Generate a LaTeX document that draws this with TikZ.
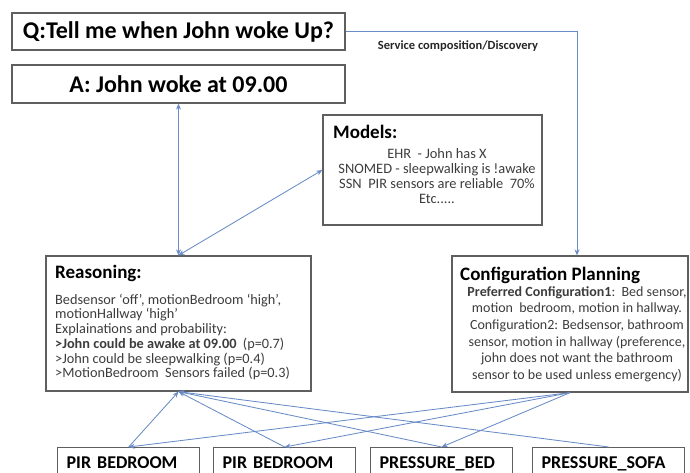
\documentclass[tikz,border=0pt]{standalone}
\usepackage{fontspec}
\setmainfont{Carlito}
\usepackage{tikz}
\usetikzlibrary{arrows,arrows.meta,positioning}
\definecolor{linkblue}{RGB}{105,140,198}
\definecolor{boxgray}{RGB}{95,95,95}
\definecolor{bodygray}{RGB}{60,60,60}
\tikzset{
  box/.style={draw=boxgray, line width=1.3pt, inner sep=0pt},
  link/.style={draw=linkblue, line width=0.85pt, ->, >={Stealth[length=6pt, width=5pt]}},
  head/.style={anchor=base west, inner sep=0pt, font=\fontsize{19}{22}\selectfont\bfseries},
  body/.style={inner sep=0pt, text=bodygray},
  sensor/.style={box, anchor=north west, align=left, text width=124pt, inner xsep=9pt,
    inner ysep=0pt, text height=21pt, text depth=25pt, font=\fontsize{18}{20}\selectfont\bfseries}
}

\begin{document}
\begin{tikzpicture}[x=1pt, y=-1pt]
            \useasboundingbox (0,0) rectangle (690,472);
            % question and answer
            \node[box, minimum width=333pt, minimum height=37pt, font=\fontsize{24}{28}\selectfont\bfseries] (q) at (178.5,31.5) {Q:Tell me when John woke Up?};
            \node[box, minimum width=333pt, minimum height=38pt, font=\fontsize{24}{28}\selectfont\bfseries] (ans) at (178.5,84) {A: John woke at 09.00};
            \node[inner sep=0pt, text=black!85, font=\fontsize{12.5}{14}\selectfont\bfseries] (svclabel) at (458,46) {Service composition/Discovery};
            % models
            \node[box, minimum width=219pt, minimum height=110pt] (models) at (432.5,170) {};
            \node[head] (modelshead) at (333,138) {Models:};
            \node[body, align=center, font=\fontsize{14.4}{15}\selectfont] (modelsbody) at (437,176) {EHR\ \ - John has X\\SNOMED - sleepwalking is !awake\\SSN\ \ PIR sensors are reliable\ \ 70\%\\Etc.....};
            % reasoning
            \node[box, minimum width=265pt, minimum height=135pt] (reason) at (178.5,323.5) {};
            \node[head] (reasonhead) at (55,278) {Reasoning:};
            \node[body, anchor=west, align=left, font=\fontsize{14.3}{14.7}\selectfont] (reasonbody) at (55,337) {Bedsensor `off', motionBedroom `high',\\motionHallway `high'\\Explainations and probability:\\\textbf{>John could be awake at 09.00}\ \ (p=0.7)\\>John could be sleepwalking (p=0.4)\\>MotionBedroom\ \ Sensors failed (p=0.3)};
            % configuration planning
            \node[box, minimum width=236pt, minimum height=136pt] (config) at (570,324) {};
            \node[head] (confighead) at (460,280) {Configuration Planning};
            \node[body, align=center, font=\fontsize{14}{16.6}\selectfont] (configbody) at (577,334) {\textbf{Preferred Configuration1}:\ \ Bed sensor,\\motion\ \ bedroom, motion in hallway.\\Configuration2: Bedsensor, bathroom\\sensor, motion in hallway (preference,\\john does not want the bathroom\\sensor to be used unless emergency)};
            % sensors
            \node[sensor] (pir1) at (57,447) {PIR BEDROOM};
            \node[sensor] (pir2) at (213,447) {PIR BEDROOM};
            \node[sensor] (bed) at (370,447) {PRESSURE\_BED};
            \node[sensor, text width=134pt] (sofa) at (532,447) {PRESSURE\_SOFA};
            % connectors
            \coordinate (svc) at (577,31.5);
            \draw[link] (q.east) -- (svc) -- (svc |- config.north);
            \draw[link, <->] (ans.south) -- (reason.north);
            \draw[link, <->] (reason.north) -- (models.west);
            \foreach \s in {pir1,pir2,bed,sofa}
                \draw[link] (\s.north) -- (reason.south);
            \foreach \s in {pir1,pir2,bed}
                \draw[link] (config.south) -- (\s.north);
        \end{tikzpicture}
\end{document}
